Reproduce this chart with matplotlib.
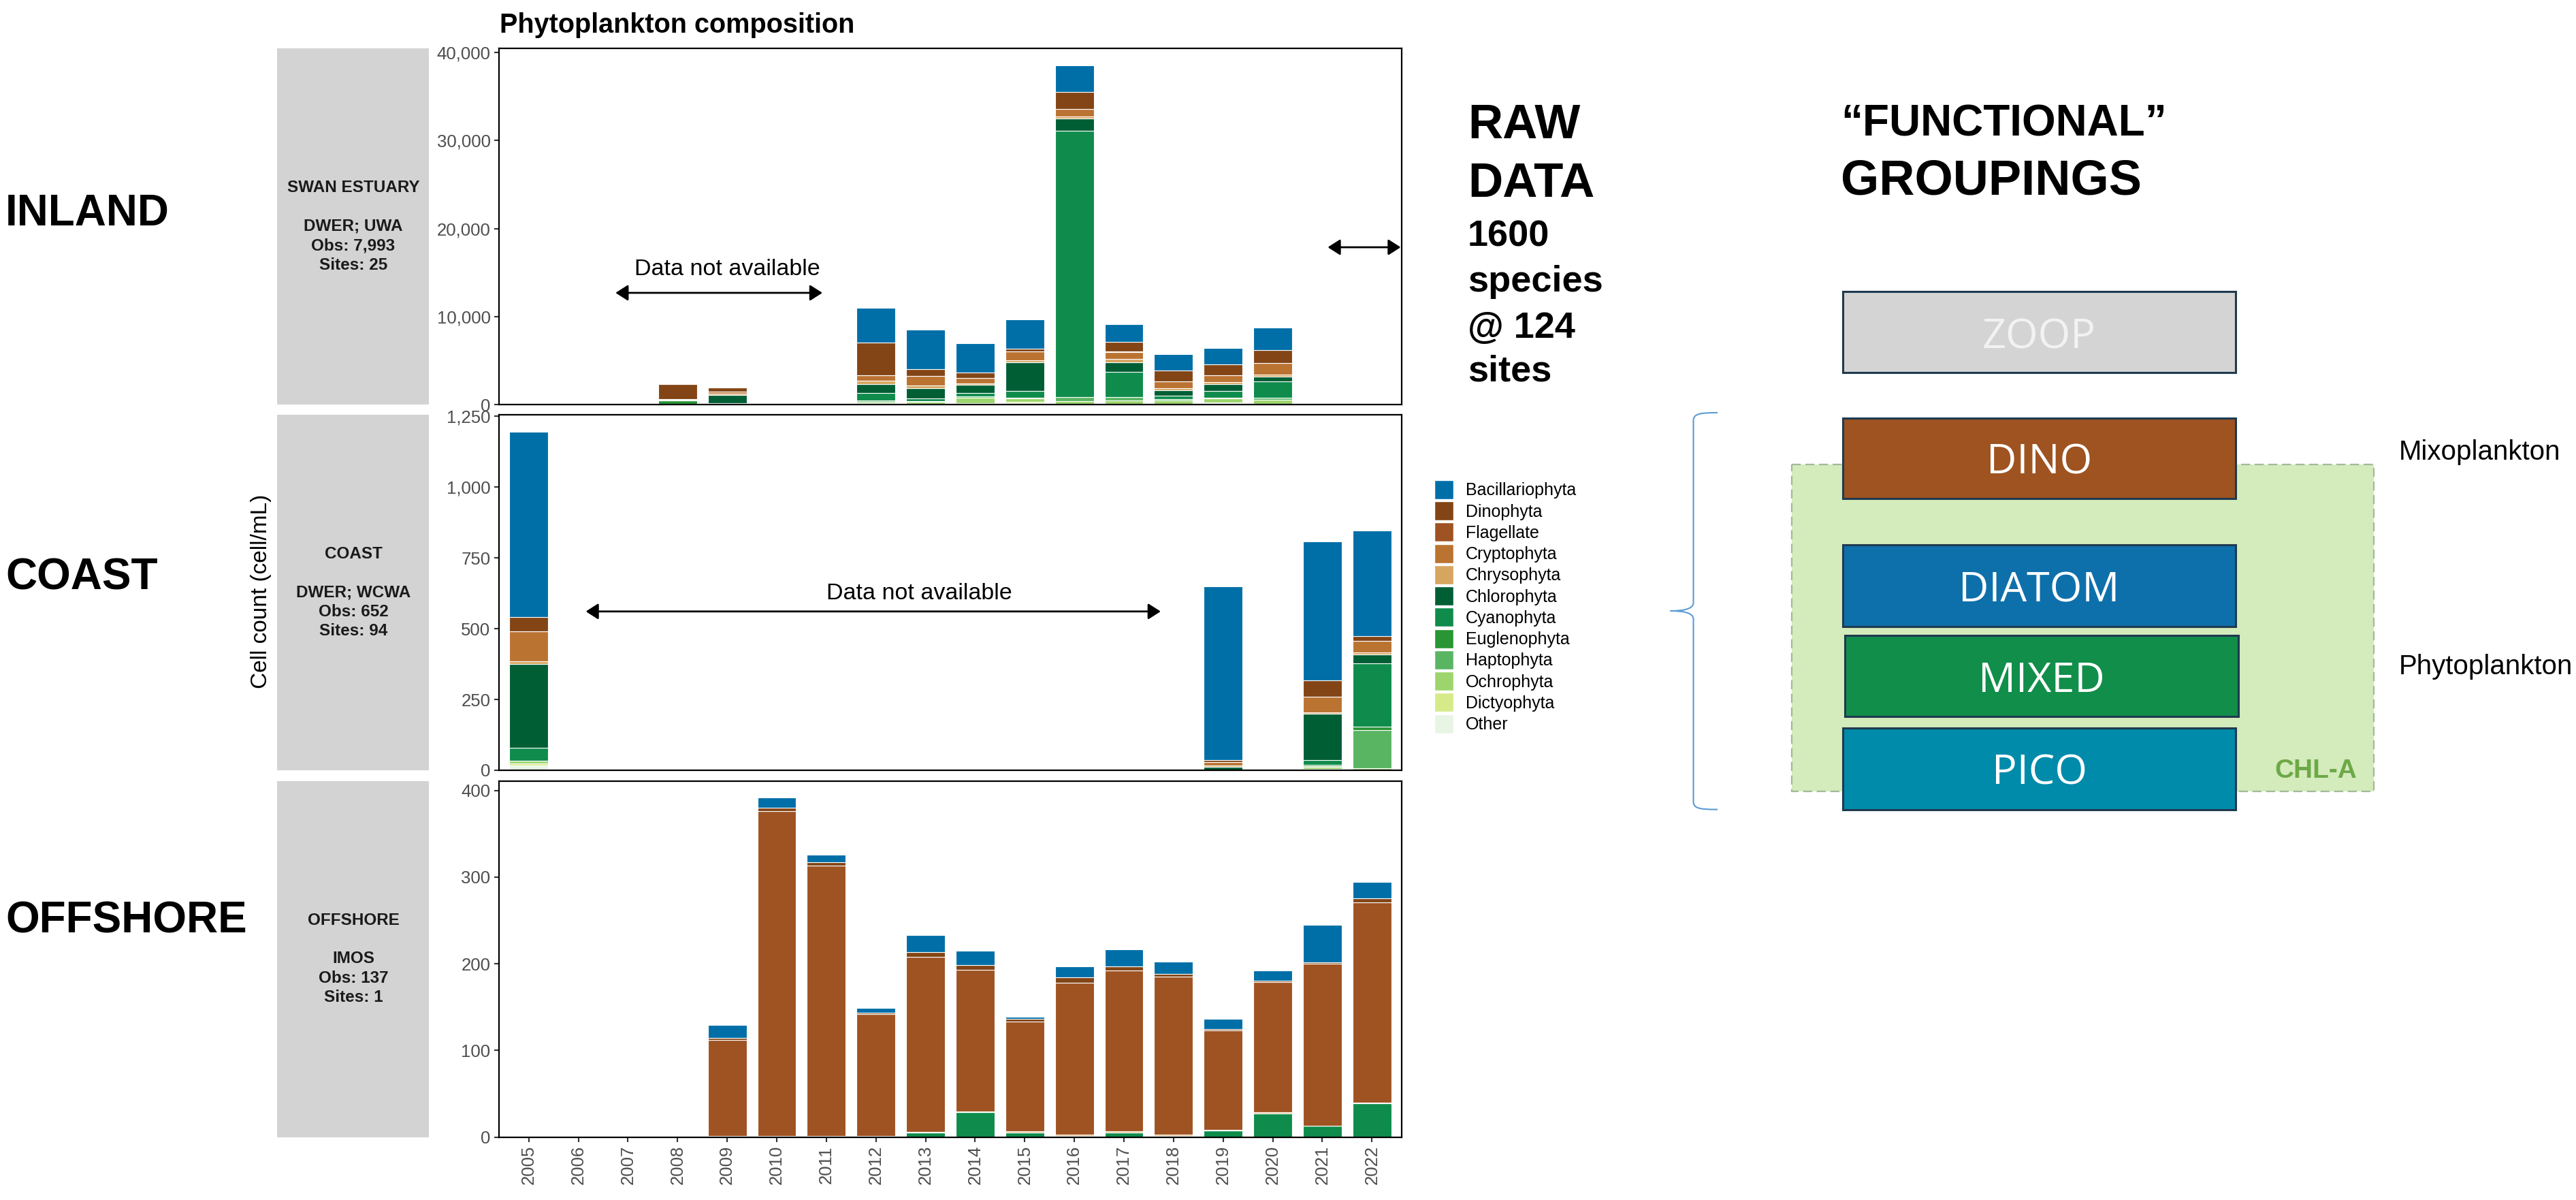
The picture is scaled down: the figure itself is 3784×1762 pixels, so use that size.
import matplotlib
matplotlib.use("Agg")
import matplotlib.pyplot as plt
from matplotlib.patches import Rectangle, Patch, PathPatch
from matplotlib.path import Path
from matplotlib.ticker import FuncFormatter

plt.rcParams['font.family'] = ['Liberation Sans', 'DejaVu Sans']

W, H, DPI = 3784, 1762, 100

# ---------------- data ----------------
years = [str(y) for y in range(2005, 2023)]
groups = ["Bacillariophyta", "Dinophyta", "Flagellate", "Cryptophyta", "Chrysophyta",
          "Chlorophyta", "Cyanophyta", "Euglenophyta", "Haptophyta", "Ochrophyta",
          "Dictyophyta", "Other"]
group_colors = ["#006FA8", "#834516", "#9F5322", "#BB7332", "#D6A661", "#005E35",
                "#0F8C4C", "#2A9535", "#5AB563", "#9CD56C", "#D6EA8A", "#E8F5E5"]

# Swan Estuary (inland) cell/mL, 2005..2022
swan_bac = [0, 0, 0, 0, 0, 0, 0, 3950, 4480, 3300, 3270, 3030, 2000, 1850, 1850, 2570, 0, 0]
swan_din = [0, 0, 0, 1700, 480, 0, 0, 3750, 780, 620, 310, 1950, 1100, 1280, 1180, 1510, 0, 0]
swan_fla = [0, 0, 0, 0, 0, 0, 0, 0, 0, 0, 0, 0, 80, 0, 0, 0, 0, 0]
swan_cry = [0, 0, 0, 90, 250, 0, 0, 560, 1050, 650, 1060, 820, 770, 760, 790, 1270, 0, 0]
swan_chr = [0, 0, 0, 90, 130, 0, 0, 400, 320, 150, 240, 220, 400, 200, 260, 240, 0, 0]
swan_chl = [0, 0, 0, 0, 930, 0, 0, 1000, 1180, 920, 3180, 1450, 1100, 680, 730, 560, 0, 0]
swan_cya = [0, 0, 0, 0, 150, 0, 0, 850, 300, 380, 780, 30250, 2850, 330, 790, 1820, 0, 0]
swan_eug = [0, 0, 0, 430, 0, 0, 0, 0, 0, 0, 0, 0, 0, 0, 0, 0, 0, 0]
swan_hap = [0, 0, 0, 0, 0, 0, 0, 150, 80, 150, 80, 420, 350, 170, 90, 260, 0, 0]
swan_och = [0, 0, 0, 0, 0, 0, 0, 180, 220, 640, 420, 350, 430, 380, 450, 480, 0, 0]
swan_dic = [0, 0, 0, 0, 0, 0, 0, 100, 0, 60, 150, 0, 0, 0, 130, 0, 0, 0]
swan_oth = [0, 0, 0, 0, 0, 0, 0, 60, 100, 60, 150, 50, 60, 90, 120, 60, 0, 0]

# Coast
coast_bac = [655, 0, 0, 0, 0, 0, 0, 0, 0, 0, 0, 0, 0, 0, 615, 0, 490, 374]
coast_din = [50, 0, 0, 0, 0, 0, 0, 0, 0, 0, 0, 0, 0, 0, 6, 0, 57, 16]
coast_fla = [0] * 18
coast_cry = [106, 0, 0, 0, 0, 0, 0, 0, 0, 0, 0, 0, 0, 0, 11, 0, 56, 42]
coast_chr = [10, 0, 0, 0, 0, 0, 0, 0, 0, 0, 0, 0, 0, 0, 7, 0, 5, 8]
coast_chl = [296, 0, 0, 0, 0, 0, 0, 0, 0, 0, 0, 0, 0, 0, 11, 0, 165, 30]
coast_cya = [46, 0, 0, 0, 0, 0, 0, 0, 0, 0, 0, 0, 0, 0, 0, 0, 16, 223]
coast_eug = [0, 0, 0, 0, 0, 0, 0, 0, 0, 0, 0, 0, 0, 0, 0, 0, 4, 13]
coast_hap = [0, 0, 0, 0, 0, 0, 0, 0, 0, 0, 0, 0, 0, 0, 0, 0, 3, 134]
coast_och = [10, 0, 0, 0, 0, 0, 0, 0, 0, 0, 0, 0, 0, 0, 0, 0, 6, 5]
coast_dic = [5, 0, 0, 0, 0, 0, 0, 0, 0, 0, 0, 0, 0, 0, 0, 0, 2, 0]
coast_oth = [18, 0, 0, 0, 0, 0, 0, 0, 0, 0, 0, 0, 0, 0, 0, 0, 4, 3]

# Offshore
off_bac = [0, 0, 0, 0, 15, 11.5, 8, 5.5, 20, 16.5, 2.5, 13, 20, 14, 11.5, 12.5, 43.5, 19]
off_din = [0, 0, 0, 0, 2, 3.8, 4.5, 2, 5, 5.5, 2.5, 6, 4, 3.5, 1.5, 1.5, 1.5, 4.5]
off_fla = [0, 0, 0, 0, 111, 375, 312, 140.5, 202, 163.5, 127, 175.5, 186, 182.5, 114.5, 149.5, 187, 231]
off_cry = [0] * 18
off_chr = [0, 0, 0, 0, 1, 1.2, 1, 1, 1.2, 1, 1, 1, 1, 1, 1, 1.5, 0, 1]
off_chl = [0] * 18
off_cya = [0, 0, 0, 0, 0, 0, 0, 0, 5, 28.5, 5.5, 0, 5.5, 0, 7.5, 27.5, 13, 39]
off_eug = [0] * 18
off_hap = [0] * 18
off_och = [0] * 18
off_dic = [0] * 18
off_oth = [0, 0, 0, 0, 0, 0, 0, 0, 0, 0, 0, 1.5, 0, 1.5, 0, 0, 0, 0]

swan = [swan_bac, swan_din, swan_fla, swan_cry, swan_chr, swan_chl, swan_cya,
        swan_eug, swan_hap, swan_och, swan_dic, swan_oth]
coast = [coast_bac, coast_din, coast_fla, coast_cry, coast_chr, coast_chl, coast_cya,
         coast_eug, coast_hap, coast_och, coast_dic, coast_oth]
offshore = [off_bac, off_din, off_fla, off_cry, off_chr, off_chl, off_cya,
            off_eug, off_hap, off_och, off_dic, off_oth]

y_ticks_swan = [0, 10000, 20000, 30000, 40000]
y_ticks_coast = [0, 250, 500, 750, 1000, 1250]
y_ticks_off = [0, 100, 200, 300, 400]

strip_swan = ["SWAN ESTUARY", "DWER; UWA", "Obs: 7,993", "Sites: 25"]
strip_coast = ["COAST", "DWER; WCWA", "Obs: 652", "Sites: 94"]
strip_off = ["OFFSHORE", "IMOS", "Obs: 137", "Sites: 1"]
region_labels = ["INLAND", "COAST", "OFFSHORE"]
func_groups = ["ZOOP", "DINO", "DIATOM", "MIXED", "PICO"]
func_colors = ["#D4D4D4", "#9E5321", "#0E70AB", "#118E4A", "#008BAA"]

# ---------------- figure ----------------
fig = plt.figure(figsize=(W / DPI, H / DPI), dpi=DPI)


def rect(x0, y0, x1, y1):
    return [x0 / W, 1 - y1 / H, (x1 - x0) / W, (y1 - y0) / H]


panel_boxes = [(733, 71, 2059, 594), (733, 609, 2059, 1131), (733, 1146.5, 2059, 1669.5)]
panel_data = [swan, coast, offshore]
panel_ticks = [y_ticks_swan, y_ticks_coast, y_ticks_off]
axes = []
x = list(range(len(years)))
for i, (box, data, ticks) in enumerate(zip(panel_boxes, panel_data, panel_ticks)):
    ax = fig.add_axes(rect(*box))
    bottom = [0.0] * len(years)
    for k in range(len(groups) - 1, -1, -1):
        vals = data[k]
        ax.bar(x, vals, width=0.78, bottom=bottom, color=group_colors[k],
               edgecolor="white", linewidth=0.8)
        bottom = [b + v for b, v in zip(bottom, vals)]
    ax.set_xlim(-0.6, len(years) - 0.4)
    ax.set_ylim(0, max(bottom) * 1.05)
    ax.set_yticks(ticks)
    ax.yaxis.set_major_formatter(FuncFormatter(lambda v, p: f"{int(v):,}"))
    ax.tick_params(axis="y", labelsize=18.5, labelcolor="#4D4D4D", color="#333333",
                   length=5, width=1.5, pad=4)
    ax.set_xticks(x)
    if i < 2:
        ax.tick_params(axis="x", bottom=False, labelbottom=False)
    else:
        ax.set_xticklabels(years, rotation=90)
        ax.tick_params(axis="x", labelsize=18.5, labelcolor="#4D4D4D", color="#333333",
                       length=5, width=1.5, pad=4)
    for s in ax.spines.values():
        s.set_linewidth(1.6)
        s.set_color("black")
    axes.append(ax)

arrow_kw = dict(arrowstyle="<|-|>,head_length=0.5,head_width=0.32", lw=2, color="black",
                shrinkA=0, shrinkB=0, mutation_scale=22)
ax0, ax1, ax2 = axes
ax0.annotate("", xy=(5.92, 12690), xytext=(1.75, 12690), arrowprops=arrow_kw)
ax0.text(4.01, 14700, "Data not available", ha="center", va="baseline", fontsize=24.5)
ax0.annotate("", xy=(17.58, 17870), xytext=(16.11, 17870), arrowprops=arrow_kw,
             annotation_clip=False)
ax1.annotate("", xy=(12.74, 561), xytext=(1.15, 561), arrowprops=arrow_kw)
ax1.text(7.87, 604, "Data not available", ha="center", va="baseline", fontsize=24.5)

# overlay in pixel coordinates
ov = fig.add_axes([0, 0, 1, 1])
ov.set_xlim(0, W)
ov.set_ylim(H, 0)
ov.axis("off")

ov.text(734, 48.5, "Phytoplankton composition", fontsize=28.5, fontweight="bold",
        ha="left", va="baseline")
ov.text(383, 868, "Cell count (cell/mL)", fontsize=24, rotation=90, ha="center", va="center")

# strips
for box, lines in zip(panel_boxes, [strip_swan, strip_coast, strip_off]):
    x0, y0, x1, y1 = box
    ov.add_patch(Rectangle((407, y0), 223, y1 - y0, facecolor="#D3D3D3", edgecolor="none"))
    cy = (y0 + y1) / 2
    for off, txt in zip([-2, 0, 1, 2], lines):
        ov.text(519, cy + off * 28.3, txt, ha="center", va="center", fontsize=17.5,
                fontweight="bold", color="#1A1A1A")

for txt, yb in zip(region_labels, [331, 866, 1370]):
    ov.text(8, yb, txt, fontsize=46, fontweight="bold", ha="left", va="baseline")

# legend
handles = [Patch(facecolor=c, edgecolor="white", linewidth=1.0) for c in group_colors]
fig.legend(handles, groups, loc="upper left", bbox_to_anchor=(2107 / W, 1 - 705 / H),
           frameon=False, fontsize=18, handlelength=1.12, handleheight=1.346,
           handletextpad=0.72, labelspacing=0.13, borderpad=0, borderaxespad=0)

# RAW DATA block
for txt, yb, fs in [("RAW", 203, 51), ("DATA", 288.6, 51), ("1600", 361, 39),
                    ("species", 428, 39), ("@ 124", 496, 39), ("sites", 560, 39)]:
    ov.text(2156, yb, txt, fontsize=fs, fontweight="bold", ha="left", va="baseline")

ov.text(2704, 200, "\u201cFUNCTIONAL\u201d", fontsize=46, fontweight="bold", ha="left", va="baseline")
ov.text(2704, 286, "GROUPINGS", fontsize=52, fontweight="bold", ha="left", va="baseline")

# chl-a dashed background
ov.add_patch(Rectangle((2632, 682), 855, 480, facecolor="#D4EBBC", edgecolor="#A3B899",
                       linewidth=1.6, linestyle=(0, (6, 3))))

box_y = [(428, 547), (614, 732), (800, 920), (933, 1052), (1069, 1189)]
box_x = [(2707, 3284), (2707, 3284), (2707, 3284), (2710, 3288), (2707, 3284)]
text_base = [511, 696, 883, 1016, 1152]
for name, col, (bx0, bx1), (by0, by1), tb in zip(func_groups, func_colors, box_x, box_y, text_base):
    ov.add_patch(Rectangle((bx0, by0), bx1 - bx0, by1 - by0, facecolor=col,
                           edgecolor="#1F3A4F", linewidth=2.2))
    tc = "#F2F2F2" if name == "ZOOP" else "white"
    ov.text((bx0 + bx1) / 2, tb, name, fontsize=44, family="Open Sans", color=tc,
            ha="center", va="baseline")

ov.text(3341, 1142, "CHL-A", fontsize=28, fontweight="bold", color="#6DA947",
        ha="left", va="baseline")
ov.text(3524, 675, "Mixoplankton", fontsize=29, ha="left", va="baseline")
ov.text(3524, 990, "Phytoplankton", fontsize=29, ha="left", va="baseline")

# curly brace
xv, xt, xm = 2487.5, 2523, 2453.6
y0b, ymb, y1b = 606, 897, 1188.6
verts = [(xt, y0b), (2495, y0b), (xv, y0b + 2), (xv, y0b + 12),
         (xv, ymb - 12),
         (xv, ymb - 2), (2470, ymb), (xm, ymb),
         (2470, ymb), (xv, ymb + 2), (xv, ymb + 12),
         (xv, y1b - 12),
         (xv, y1b - 2), (2495, y1b), (xt, y1b)]
codes = [Path.MOVETO, Path.CURVE4, Path.CURVE4, Path.CURVE4,
         Path.LINETO,
         Path.CURVE4, Path.CURVE4, Path.CURVE4,
         Path.CURVE4, Path.CURVE4, Path.CURVE4,
         Path.LINETO,
         Path.CURVE4, Path.CURVE4, Path.CURVE4]
ov.add_patch(PathPatch(Path(verts, codes), facecolor="none", edgecolor="#5B9BD5", linewidth=1.5))

fig.savefig("out.png", dpi=DPI)
